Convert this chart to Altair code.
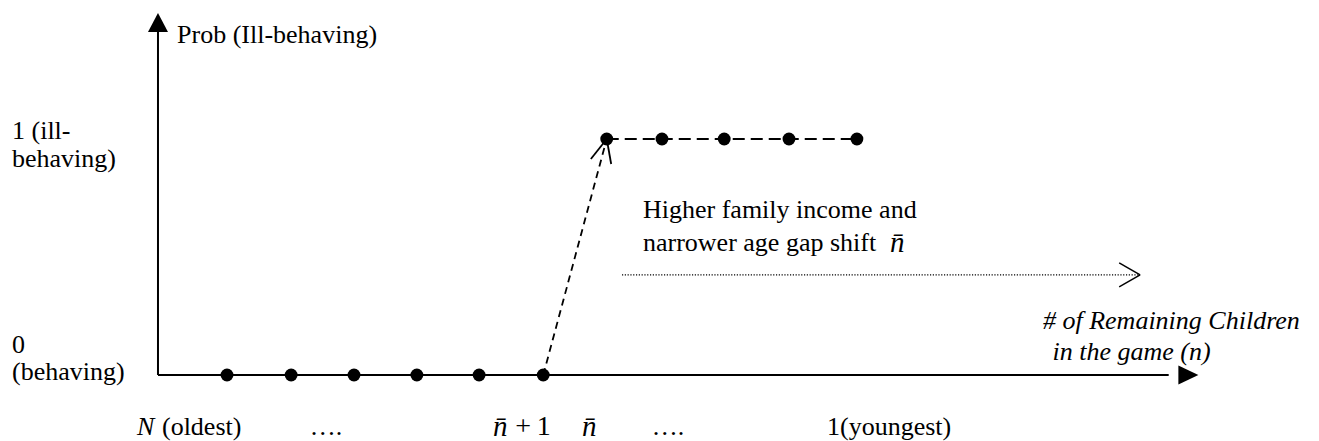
import altair as alt
import pandas as pd

# Horizontal unit = one child slot, vertical unit = probability of ill-behaving
X_DOMAIN = [-2.575, 18.197]
Y_DOMAIN = [-0.2797, 1.589]
FONT = "Liberation Serif"
FS = 26

# Children, from oldest (left) to youngest (right), and their probability
dot_pos = [1.0, 2.01, 3.0, 3.99, 4.97, 5.98, 6.98, 7.85, 8.83, 9.85, 10.92]
dot_prob = [0, 0, 0, 0, 0, 0, 1, 1, 1, 1, 1]

# Axis lines (start and end points)
axis_s = [-0.087, -0.087]
axis_v = [0.0, 0.0]
axis_s2 = [-0.087, 15.83]
axis_v2 = [1.453, 0.0]

# Arrowheads of the two axes
head_s = [-0.087, 16.14]
head_v = [1.494, 0.0]
head_shape = ["M-1,0.95L0,-0.95L1,0.95Z", "M-1,-0.95L1,0L-1,0.95Z"]

# Jump from n-bar+1 to n-bar, with its open arrowhead
jump_s, jump_v, jump_s2, jump_v2 = [5.98], [0.0], [6.98], [1.0]
barb_s = [6.98, 6.98]
barb_v = [1.0, 1.0]
barb_s2 = [6.73, 7.05]
barb_v2 = [0.915, 0.894]

# Shift arrow (dotted shaft and open chevron)
shift_s, shift_v, shift_s2, shift_v2 = [7.22], [0.424], [15.35], [0.424]
chev_s = [15.38, 15.38]
chev_v = [0.424, 0.424]
chev_s2 = [15.05, 15.05]
chev_v2 = [0.475, 0.373]

# Text labels: text, position, style
lab_text = [
    "Prob (Ill-behaving)", "1 (ill-", "behaving)", "0", "(behaving)",
    "(oldest)", "\u2026.", "+\u20091", "\u2026.", "1(youngest)",
    "Higher family income and", "narrower age gap shift",
]
lab_s = [0.213, -2.386, -2.386, -2.386, -2.386,
         -0.024, 2.559, 5.54, 7.945, 10.449,
         7.551, 7.551]
lab_v = [1.441, 1.034, 0.915, 0.127, 0.013,
         -0.220, -0.220, -0.220, -0.220, -0.220,
         0.699, 0.559]
lab_align = ["left", "left", "left", "left", "left",
             "left", "center", "left", "center", "left",
             "left", "left"]
lab_size = [FS] * 7 + [28] + [FS] * 4

ital_text = ["N", "n\u0304", "n\u0304", "n\u0304",
             "# of Remaining Children", " in the game (n)"]
ital_s = [-0.417, 5.189, 6.591, 11.441, 13.850, 14.00]
ital_v = [-0.220, -0.220, -0.220, 0.559, 0.229, 0.097]
ital_size = [FS, 29, 29, 29, FS, FS]

xs = alt.Scale(domain=X_DOMAIN, nice=False, zero=False)
ys = alt.Scale(domain=Y_DOMAIN, nice=False, zero=False)


def seg_layer(s, v, s2, v2, dash=None, width=2.0):
    df = pd.DataFrame({"s": s, "v": v, "s2": s2, "v2": v2})
    kw = dict(color="black", strokeWidth=width)
    if dash is not None:
        kw["strokeDash"] = dash
    return alt.Chart(df).mark_rule(**kw).encode(
        x=alt.X("s:Q", scale=xs, axis=None),
        y=alt.Y("v:Q", scale=ys, axis=None),
        x2="s2:Q",
        y2="v2:Q",
    )


axes = seg_layer(axis_s, axis_v, axis_s2, axis_v2, width=2.0)

heads = alt.layer(*[
    alt.Chart(pd.DataFrame({"s": [s], "v": [v]})).mark_point(
        shape=shp, filled=True, color="black", opacity=1, size=400
    ).encode(
        x=alt.X("s:Q", scale=xs, axis=None),
        y=alt.Y("v:Q", scale=ys, axis=None),
    )
    for s, v, shp in zip(head_s, head_v, head_shape)
])

top_df = pd.DataFrame({"s": [dot_pos[6]], "v": [1.0], "s2": [dot_pos[-1]], "v2": [1.0]})
top_dash = seg_layer(top_df.s, top_df.v, top_df.s2, top_df.v2, dash=[12, 6], width=2.0)
jump = seg_layer(jump_s, jump_v, jump_s2, jump_v2, dash=[7, 5], width=1.8)
barbs = seg_layer(barb_s, barb_v, barb_s2, barb_v2, width=1.8)
shift = seg_layer(shift_s, shift_v, shift_s2, shift_v2, dash=[1.2, 1.6], width=1.3)
chev = seg_layer(chev_s, chev_v, chev_s2, chev_v2, width=1.5)

dots = alt.Chart(pd.DataFrame({"s": dot_pos, "v": dot_prob})).mark_circle(
    size=165, color="black", opacity=1
).encode(
    x=alt.X("s:Q", scale=xs, axis=None),
    y=alt.Y("v:Q", scale=ys, axis=None),
)


def text_layer(texts, s, v, sizes, aligns, italic=False):
    df = pd.DataFrame({"t": texts, "s": s, "v": v, "fs": sizes, "a": aligns})
    layers = []
    for (al, size), sub in df.groupby(["a", "fs"]):
        kw = dict(font=FONT, fontSize=int(size), align=al, baseline="middle", color="black")
        if italic:
            kw["fontStyle"] = "italic"
        layers.append(
            alt.Chart(sub).mark_text(**kw).encode(
                x=alt.X("s:Q", scale=xs, axis=None),
                y=alt.Y("v:Q", scale=ys, axis=None),
                text="t:N",
            )
        )
    return alt.layer(*layers)


labels = text_layer(lab_text, lab_s, lab_v, lab_size, lab_align)
ital = text_layer(ital_text, ital_s, ital_v, ital_size, ["left"] * len(ital_text), italic=True)

chart = alt.layer(
    axes, heads, top_dash, jump, barbs, shift, chev, dots, labels, ital
).properties(
    width=1319, height=441, autosize="none", padding=0, background="white"
).configure_view(strokeWidth=0)

chart.save("out.html", embed_options={"renderer": "svg", "actions": False})
